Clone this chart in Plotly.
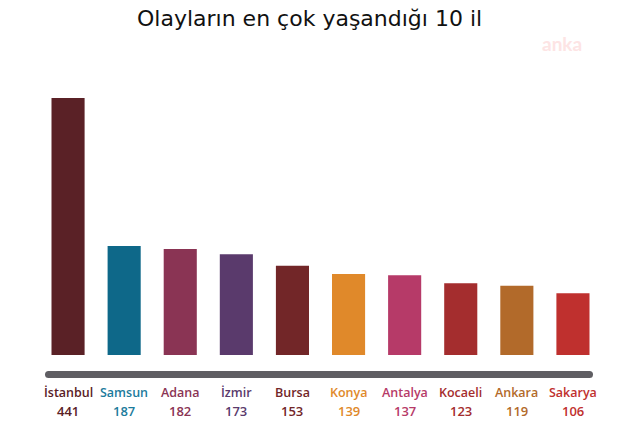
import plotly.graph_objects as go

cities = ["İstanbul", "Samsun", "Adana", "İzmir", "Bursa", "Konya", "Antalya", "Kocaeli", "Ankara", "Sakarya"]
values = [441, 187, 182, 173, 153, 139, 137, 123, 119, 106]
bar_colors = ["#5a2126", "#0e6889", "#8a3454", "#5a3a6c", "#722628", "#e0892a", "#b63a68", "#a42d2e", "#b26a2a", "#bf302e"]
label_colors = ["#5a2126", "#1c7b9c", "#8a3454", "#5a3a6c", "#722628", "#e0892a", "#b63a68", "#a42d2e", "#b26a2a", "#bf302e"]
title = "Olayların en çok yaşandığı 10 il"

W, H = 621, 427
L, R, T, B = 40, 20, 98, 72
PW, PH = W - L - R, H - T - B

def px(x): return (x - L) / PW
def py(y): return (H - B - y) / PH

fig = go.Figure()
fig.add_trace(go.Bar(x=cities, y=values, marker=dict(color=bar_colors, line=dict(width=0)),
                     width=0.59, hoverinfo="x+y"))

annotations = []
for c, v, col in zip(cities, values, label_colors):
    annotations.append(dict(x=c, y=py(392.5), xref="x", yref="paper", text=c, showarrow=False,
                            font=dict(family="Open Sans", size=12.5, color=col, weight=600),
                            xanchor="center", yanchor="middle"))
    annotations.append(dict(x=c, y=py(411), xref="x", yref="paper", text=str(v), showarrow=False,
                            font=dict(family="Open Sans", size=13, color=col, weight=600),
                            xanchor="center", yanchor="middle"))
annotations.append(dict(x=px(309), y=py(18), xref="paper", yref="paper", text=title, showarrow=False,
                        font=dict(family="DejaVu Sans", size=22, color="#111111"),
                        xanchor="center", yanchor="middle"))
annotations.append(dict(x=px(562), y=py(43), xref="paper", yref="paper", text="anka", showarrow=False,
                        font=dict(family="Lato", size=19, color="#fde4e4", weight=700),
                        xanchor="center", yanchor="middle"))

# rounded baseline bar (decorative)
x0, x1, yc, r = 45, 593, 374.5, 3.5
path = (f"M {px(x0 + r)},{py(yc - r)} L {px(x1 - r)},{py(yc - r)} "
        f"Q {px(x1)},{py(yc - r)} {px(x1)},{py(yc)} Q {px(x1)},{py(yc + r)} {px(x1 - r)},{py(yc + r)} "
        f"L {px(x0 + r)},{py(yc + r)} Q {px(x0)},{py(yc + r)} {px(x0)},{py(yc)} "
        f"Q {px(x0)},{py(yc - r)} {px(x0 + r)},{py(yc - r)} Z")

fig.update_layout(
    width=W, height=H,
    margin=dict(l=L, r=R, t=T, b=B),
    paper_bgcolor="white", plot_bgcolor="white",
    showlegend=False,
    xaxis=dict(showticklabels=False, showgrid=False, zeroline=False, showline=False, ticks="",
               range=[-0.5, 9.5]),
    yaxis=dict(showticklabels=False, showgrid=False, zeroline=False, showline=False, ticks="",
               range=[0, 441]),
    annotations=annotations,
    shapes=[dict(type="path", xref="paper", yref="paper", path=path, fillcolor="#5f5e63",
                 line=dict(width=0), layer="above")],
)
fig.write_html("out.html")
